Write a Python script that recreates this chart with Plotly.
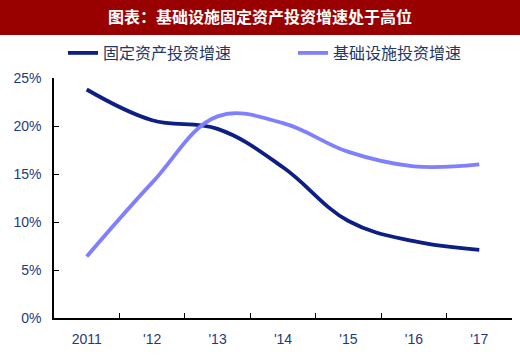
import plotly.graph_objects as go

years = ["2011", "'12", "'13", "'14", "'15", "'16", "'17"]
fixed_asset = [23.8, 20.6, 19.7, 15.7, 10.1, 8.0, 7.1]
infrastructure = [6.4, 14.1, 21.0, 20.3, 17.3, 15.8, 16.0]
y_ticks = [0, 5, 10, 15, 20, 25]
y_labels = ["0%", "5%", "10%", "15%", "20%", "25%"]

W, H = 520, 355
L, R, T, B = 54, 8, 78, 37
pw, ph = W - L - R, H - T - B

fig = go.Figure()
fig.add_trace(go.Scatter(x=years, y=fixed_asset, mode="lines", name="固定资产投资增速",
                         line=dict(color="#0d1f87", width=3.8, shape="spline", smoothing=1.1)))
fig.add_trace(go.Scatter(x=years, y=infrastructure, mode="lines", name="基础设施投资增速",
                         line=dict(color="#8080ff", width=3.8, shape="spline", smoothing=1.1)))

fig.add_shape(type="rect", xref="paper", yref="paper",
              x0=-L / pw, x1=1 + R / pw, y0=(ph + T - 35) / ph, y1=(ph + T) / ph,
              fillcolor="#990000", line=dict(width=0), layer="below")

fig.update_layout(
    width=W, height=H,
    margin=dict(l=L, r=R, t=T, b=B, autoexpand=False),
    paper_bgcolor="white", plot_bgcolor="white",
    font=dict(family="Liberation Sans, Arial, sans-serif", color="#1f3a7a"),
    title=dict(text="<b>图表：基础设施固定资产投资增速处于高位</b>",
               x=0.5, xanchor="center", y=1 - 17.5 / H, yanchor="middle",
               font=dict(family="Noto Sans CJK SC", size=16, color="white")),
    legend=dict(orientation="h", x=9 / pw, xanchor="left", y=(ph + T - 53) / ph, yanchor="middle",
                font=dict(family="Noto Sans CJK SC", size=16, color="#1f3864"),
                entrywidth=185, entrywidthmode="pixels", bgcolor="rgba(0,0,0,0)"),
    showlegend=True,
)
fig.update_xaxes(type="category", tickson="boundaries", ticks="inside", ticklen=5,
                 tickcolor="black", showline=True, linecolor="black", linewidth=1.5,
                 showgrid=False, tickfont=dict(size=14, color="#1f3a7a"),
                 ticklabelstandoff=7, range=[-0.5, 6.5])
fig.update_yaxes(range=[0, 25], tickvals=y_ticks, ticktext=y_labels, ticks="inside",
                 ticklen=5, tickcolor="black", showline=True, linecolor="black",
                 linewidth=1.5, showgrid=False, zeroline=False,
                 ticklabelstandoff=8, tickfont=dict(size=14, color="#1f3a7a"))

fig.write_html("out.html", config={"displayModeBar": False},
               post_script="document.body.style.margin='0';")
